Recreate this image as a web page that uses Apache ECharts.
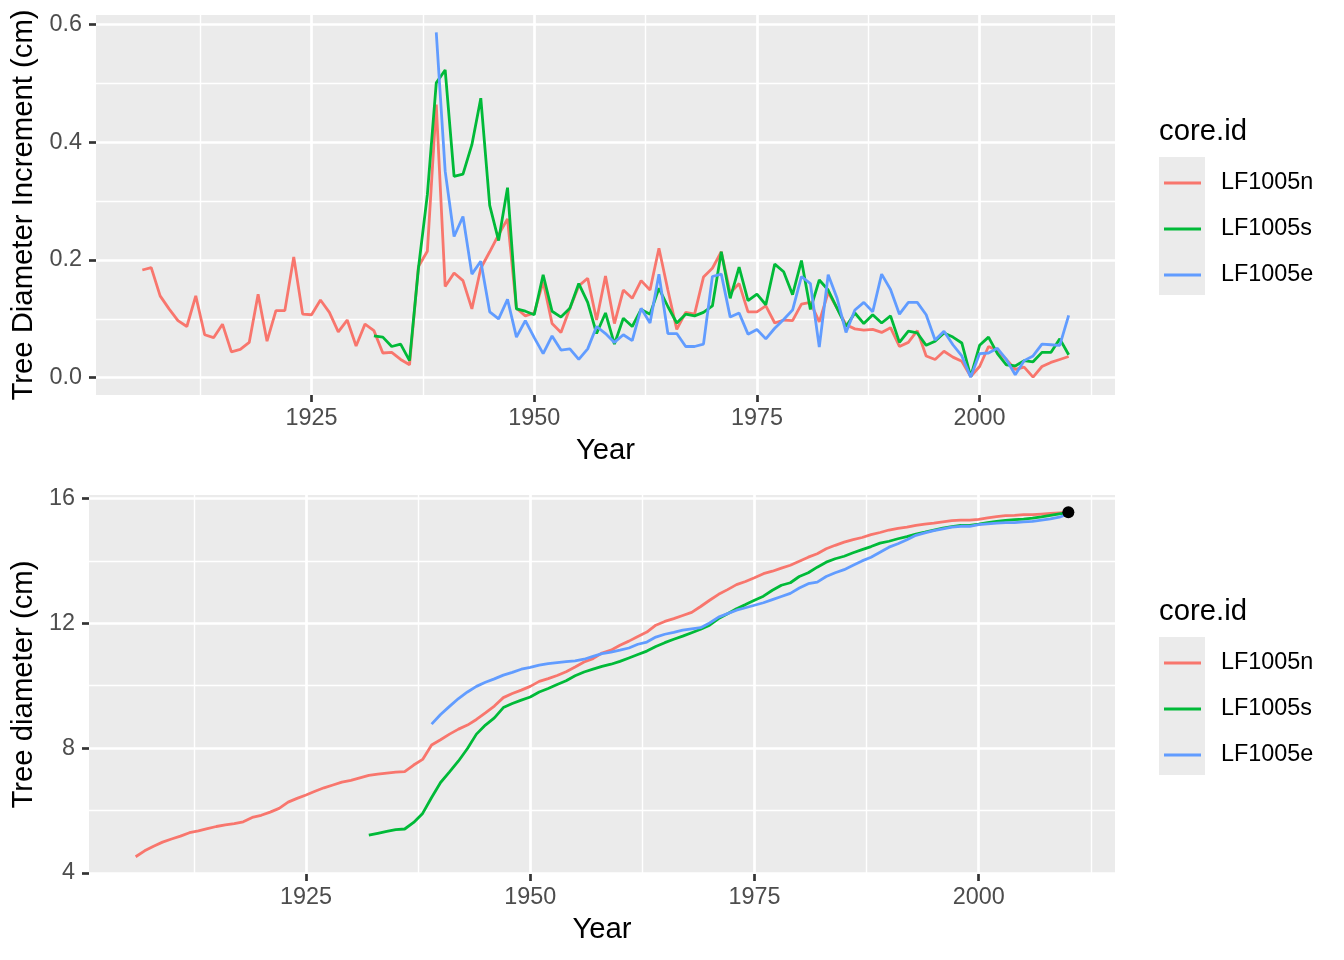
<!DOCTYPE html>
<html>
<head>
<meta charset="utf-8">
<title>LF1005 — tree diameter increment and diameter</title>
<script src="https://cdn.jsdelivr.net/npm/echarts@6/dist/echarts.min.js"></script>
<style>
  html, body { margin: 0; padding: 0; background: #FFFFFF; }
  #chart { width: 1344px; height: 960px; }
</style>
</head>
<body>
<div id="chart"></div>
<script>
// --- data (one value per year, cm) ---
const cores = ["LF1005n", "LF1005s", "LF1005e"];
const coreColors = ["#F8766D", "#00BA38", "#619CFF"];
const firstYear = [1906, 1932, 1939];

// annual diameter increment
const incN = [
  0.183, 0.187, 0.139, 0.117, 0.097, 0.087, 0.139, 0.073, 0.068, 0.091, // 1906-1915
  0.044, 0.048, 0.060, 0.142, 0.062, 0.114, 0.114, 0.205, 0.108, 0.107, // 1916-1925
  0.132, 0.111, 0.078, 0.098, 0.054, 0.091, 0.080, 0.042, 0.043, 0.031, // 1926-1935
  0.022, 0.189, 0.215, 0.464, 0.155, 0.178, 0.165, 0.117, 0.186, 0.214, // 1936-1945
  0.243, 0.270, 0.118, 0.105, 0.110, 0.163, 0.092, 0.077, 0.118, 0.156, // 1946-1955
  0.169, 0.098, 0.173, 0.092, 0.149, 0.135, 0.165, 0.149, 0.220, 0.149, // 1956-1965
  0.082, 0.111, 0.108, 0.171, 0.186, 0.214, 0.144, 0.160, 0.112, 0.112, // 1966-1975
  0.122, 0.093, 0.098, 0.097, 0.125, 0.128, 0.095, 0.145, 0.118, 0.090, // 1976-1985
  0.083, 0.081, 0.082, 0.077, 0.085, 0.053, 0.060, 0.080, 0.037, 0.031, // 1986-1995
  0.045, 0.035, 0.028, 0.002, 0.019, 0.053, 0.046, 0.031, 0.014, 0.018, // 1996-2005
  0.001, 0.019, 0.026, 0.031, 0.036                                      // 2006-2010
];
const incS = [
  0.071, 0.069, 0.053, 0.057,                                            // 1932-1935
  0.029, 0.186, 0.311, 0.501, 0.523, 0.342, 0.346, 0.396, 0.475, 0.293, // 1936-1945
  0.233, 0.323, 0.117, 0.113, 0.107, 0.175, 0.113, 0.103, 0.118, 0.160, // 1946-1955
  0.128, 0.075, 0.110, 0.057, 0.101, 0.087, 0.116, 0.108, 0.152, 0.121, // 1956-1965
  0.093, 0.108, 0.105, 0.111, 0.122, 0.214, 0.135, 0.188, 0.131, 0.142, // 1966-1975
  0.124, 0.193, 0.180, 0.141, 0.199, 0.116, 0.166, 0.149, 0.118, 0.087, // 1976-1985
  0.110, 0.092, 0.107, 0.093, 0.105, 0.060, 0.079, 0.076, 0.055, 0.062, // 1986-1995
  0.076, 0.069, 0.059, 0.002, 0.055, 0.069, 0.041, 0.022, 0.020, 0.029, // 1996-2005
  0.027, 0.043, 0.043, 0.066, 0.039                                      // 2006-2010
];
const incE = [
  0.587, 0.351, 0.240, 0.274, 0.176, 0.198, 0.112,                      // 1939-1945
  0.100, 0.133, 0.069, 0.097, 0.068, 0.041, 0.071, 0.047, 0.049, 0.031, // 1946-1955
  0.049, 0.087, 0.075, 0.060, 0.073, 0.063, 0.118, 0.093, 0.176, 0.075, // 1956-1965
  0.075, 0.053, 0.053, 0.057, 0.172, 0.176, 0.103, 0.110, 0.074, 0.082, // 1966-1975
  0.066, 0.084, 0.099, 0.115, 0.172, 0.160, 0.052, 0.175, 0.135, 0.077, // 1976-1985
  0.115, 0.128, 0.112, 0.176, 0.150, 0.108, 0.128, 0.128, 0.107, 0.064, // 1986-1995
  0.079, 0.056, 0.037, 0.001, 0.041, 0.042, 0.050, 0.031, 0.005, 0.029, // 1996-2005
  0.037, 0.057, 0.056, 0.055, 0.106                                      // 2006-2010
];

// reconstructed tree diameter
const diaN = [
  4.52, 4.71, 4.86, 4.99, 5.09, 5.18, 5.29, 5.35, 5.42, 5.49,           // 1906-1915
  5.54, 5.58, 5.64, 5.78, 5.85, 5.95, 6.07, 6.27, 6.39, 6.50,           // 1916-1925
  6.62, 6.73, 6.82, 6.91, 6.97, 7.05, 7.13, 7.17, 7.20, 7.23,           // 1926-1935
  7.25, 7.46, 7.64, 8.10, 8.27, 8.45, 8.61, 8.74, 8.92, 9.13,           // 1936-1945
  9.35, 9.62, 9.75, 9.86, 9.98, 10.14, 10.23, 10.33, 10.45, 10.60,      // 1946-1955
  10.76, 10.87, 11.05, 11.14, 11.30, 11.43, 11.58, 11.72, 11.94, 12.06, // 1956-1965
  12.15, 12.25, 12.35, 12.54, 12.74, 12.93, 13.08, 13.24, 13.34, 13.46, // 1966-1975
  13.59, 13.67, 13.77, 13.86, 13.99, 14.12, 14.23, 14.39, 14.50, 14.60, // 1976-1985
  14.68, 14.75, 14.84, 14.91, 14.99, 15.04, 15.08, 15.14, 15.18, 15.21, // 1986-1995
  15.25, 15.29, 15.31, 15.31, 15.33, 15.38, 15.42, 15.45, 15.46, 15.48, // 1996-2005
  15.48, 15.50, 15.52, 15.54, 15.56                                      // 2006-2010
];
const diaS = [
  5.21, 5.27, 5.33, 5.39,                                                // 1932-1935
  5.41, 5.62, 5.91, 6.42, 6.90, 7.24, 7.59, 7.99, 8.45, 8.74,           // 1936-1945
  8.97, 9.30, 9.43, 9.54, 9.64, 9.80, 9.91, 10.04, 10.16, 10.32,        // 1946-1955
  10.44, 10.53, 10.62, 10.69, 10.78, 10.89, 11.00, 11.11, 11.26, 11.38, // 1956-1965
  11.49, 11.59, 11.70, 11.81, 11.94, 12.15, 12.31, 12.47, 12.60, 12.74, // 1966-1975
  12.87, 13.06, 13.22, 13.30, 13.50, 13.62, 13.80, 13.96, 14.07, 14.15, // 1976-1985
  14.26, 14.36, 14.46, 14.57, 14.63, 14.71, 14.78, 14.86, 14.92, 14.99, // 1986-1995
  15.05, 15.10, 15.14, 15.14, 15.18, 15.23, 15.27, 15.30, 15.32, 15.34, // 1996-2005
  15.37, 15.41, 15.46, 15.51, 15.55                                      // 2006-2010
];
const diaE = [
  8.77, 9.08, 9.34, 9.59, 9.80, 9.98, 10.11,                             // 1939-1945
  10.22, 10.34, 10.43, 10.53, 10.59, 10.66, 10.71, 10.74, 10.77, 10.80, // 1946-1955
  10.85, 10.94, 11.03, 11.08, 11.14, 11.21, 11.33, 11.40, 11.56, 11.65, // 1956-1965
  11.71, 11.78, 11.82, 11.86, 12.01, 12.20, 12.31, 12.42, 12.50, 12.58, // 1966-1975
  12.66, 12.76, 12.86, 12.96, 13.13, 13.27, 13.32, 13.50, 13.62, 13.72, // 1976-1985
  13.86, 14.00, 14.12, 14.28, 14.44, 14.55, 14.68, 14.82, 14.90, 14.97, // 1986-1995
  15.03, 15.08, 15.11, 15.11, 15.16, 15.19, 15.21, 15.23, 15.23, 15.25, // 1996-2005
  15.27, 15.31, 15.35, 15.40, 15.51                                      // 2006-2010
];
const endPoint = [2010, 15.56];

// axis ranges (ggplot's 5% expansion) and breaks
const xRange = [1900.8, 2015.2];
const xMajor = [1925, 1950, 1975, 2000];
const xMinor = [1912.5, 1937.5, 1962.5, 1987.5, 2012.5];
const incRange = [-0.0294, 0.6164];
const incMajor = [0, 0.2, 0.4, 0.6];
const incMinor = [0.1, 0.3, 0.5];
const diaRange = [3.968, 16.112];
const diaMajor = [4, 8, 12, 16];
const diaMinor = [6, 10, 14];

(function () {
  "use strict";

  const FONT = '"Liberation Sans", Arial, Helvetica, sans-serif';
  const PANEL = "#EBEBEB";
  const chart = echarts.init(document.getElementById("chart"), null, { renderer: "canvas" });

  const pairs = (start, arr) => arr.map((v, i) => [start + i, v]);

  const tickStyle = { show: true, length: 7, lineStyle: { color: "#333333", width: 2.7 } };
  const labelStyle = { color: "#4D4D4D", fontSize: 23.4, fontFamily: FONT };
  const titleStyle = { color: "#000000", fontSize: 29.3, fontFamily: FONT };

  // one visible axis (major breaks) + one bare axis for the thin minor grid
  function xAxes(grid) {
    return [
      { type: "value", gridIndex: grid, min: xRange[0], max: xRange[1],
        axisLine: { show: false, onZero: false },
        axisTick: Object.assign({ customValues: xMajor }, tickStyle),
        axisLabel: Object.assign({ customValues: xMajor, margin: 12,
                                   formatter: (v) => String(v) }, labelStyle),
        splitLine: { show: true, lineStyle: { color: "#FFFFFF", width: 2.7 } },
        name: "Year", nameLocation: "middle", nameGap: 41, nameTextStyle: titleStyle },
      { type: "value", gridIndex: grid, min: xRange[0], max: xRange[1], position: "bottom",
        axisLine: { show: false, onZero: false },
        axisTick: { show: false, customValues: xMinor },
        axisLabel: { show: false, customValues: xMinor },
        splitLine: { show: true, lineStyle: { color: "#FFFFFF", width: 1.4 } } },
    ];
  }

  function yAxes(grid, range, major, minor, fmt, name, gap) {
    return [
      { type: "value", gridIndex: grid, min: range[0], max: range[1],
        axisLine: { show: false, onZero: false },
        axisTick: Object.assign({ customValues: major }, tickStyle),
        axisLabel: Object.assign({ customValues: major, margin: 14, formatter: fmt }, labelStyle),
        splitLine: { show: true, lineStyle: { color: "#FFFFFF", width: 2.7 } },
        name: name, nameLocation: "middle", nameGap: gap, nameTextStyle: titleStyle },
      { type: "value", gridIndex: grid, min: range[0], max: range[1], position: "left",
        axisLine: { show: false, onZero: false },
        axisTick: { show: false, customValues: minor },
        axisLabel: { show: false, customValues: minor },
        splitLine: { show: true, lineStyle: { color: "#FFFFFF", width: 1.4 } } },
    ];
  }

  function lineSeries(name, color, axis, data) {
    return { name: name, type: "line", xAxisIndex: axis, yAxisIndex: axis,
             data: data, showSymbol: false, symbol: "none", color: color,
             lineStyle: { color: color, width: 2.8 }, emphasis: { disabled: true } };
  }

  const incData = [incN, incS, incE];
  const diaData = [diaN, diaS, diaE];
  const series = [];
  cores.forEach((c, k) => series.push(lineSeries(c, coreColors[k], 0, pairs(firstYear[k], incData[k]))));
  cores.forEach((c, k) => series.push(lineSeries(c, coreColors[k], 2, pairs(firstYear[k], diaData[k]))));
  series.push({ name: "end", type: "scatter", xAxisIndex: 2, yAxisIndex: 2,
                data: [endPoint], symbolSize: 12, itemStyle: { color: "#000000", opacity: 1 }, z: 5 });

  function legend(top) {
    return { data: cores, orient: "vertical", left: 1164, top: top, padding: 0,
             icon: "rect", itemWidth: 37, itemHeight: 3, itemGap: 0,
             textStyle: { color: "#000000", fontSize: 23.4, fontFamily: FONT,
                          lineHeight: 46, padding: [0, 0, 0, 15] } };
  }

  // legend title and the grey key column, as ggplot draws them
  function legendDecor(top) {
    return [
      { type: "rect", left: 1159, top: top, z: 0,
        shape: { width: 46, height: 138 }, style: { fill: PANEL } },
      { type: "text", left: 1159, top: top - 40, z: 0,
        style: { text: "core.id", fill: "#000000", font: "29.3px " + FONT } },
    ];
  }

  chart.setOption({
    animation: false,
    textStyle: { fontFamily: FONT },
    grid: [
      { left: 96, top: 15, width: 1019, height: 380, show: true,
        backgroundColor: PANEL, borderWidth: 0 },
      { left: 89, top: 495, width: 1026, height: 379, show: true,
        backgroundColor: PANEL, borderWidth: 0 },
    ],
    xAxis: xAxes(0).concat(xAxes(1)),
    yAxis: yAxes(0, incRange, incMajor, incMinor, (v) => v.toFixed(1),
                 "Tree Diameter Increment (cm)", 55)
      .concat(yAxes(1, diaRange, diaMajor, diaMinor, (v) => String(v),
                    "Tree diameter (cm)", 47)),
    legend: [legend(160), legend(640)],
    graphic: legendDecor(157).concat(legendDecor(637)),
    series: series,
  });

  window.addEventListener("resize", () => chart.resize());
})();
</script>
</body>
</html>
